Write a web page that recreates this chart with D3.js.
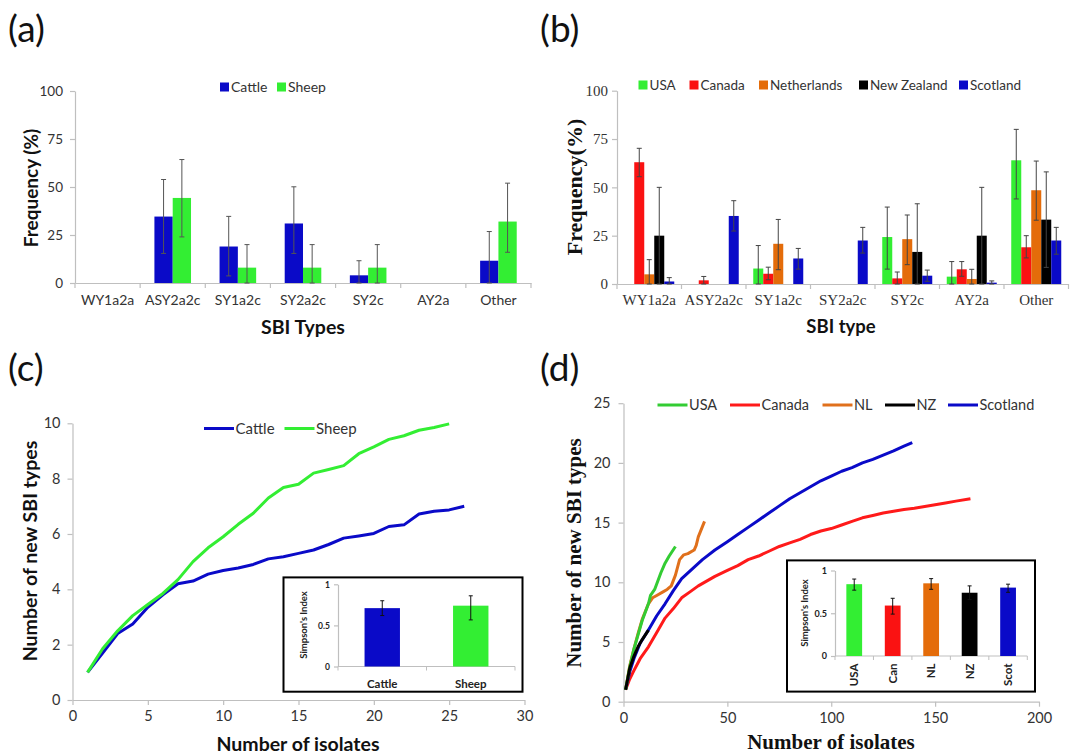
<!DOCTYPE html>
<html><head><meta charset="utf-8">
<script src="https://cdn.jsdelivr.net/npm/d3@7"></script>
<style>body{margin:0;background:#fff}</style>
</head><body>
<svg id="fig" width="1073" height="756"></svg>
<script>
// ---------------- DATA ----------------
// Panel (a): SBI type frequency by host
const sbiTypes = ["WY1a2a","ASY2a2c","SY1a2c","SY2a2c","SY2c","AY2a","Other"];
const hostNames = ["Cattle","Sheep"];
const cattleFreq = [0, 34.6, 19.0, 31.0, 4.0, 0, 11.6];
const cattleLow  = [null, 15.4, 3.7, 15.4, 0, null, 0];
const cattleHigh = [null, 53.9, 34.7, 50.1, 11.6, null, 26.8];
const sheepFreq  = [0, 44.3, 8.0, 8.0, 8.0, 0, 32.0];
const sheepLow   = [null, 24.0, 0, 0, 0, null, 16.0];
const sheepHigh  = [null, 64.3, 20.0, 20.0, 20.0, null, 52.0];
const freqTicks = [0, 25, 50, 75, 100];

// Panel (b): SBI type frequency by country
const countryNames = ["USA","Canada","Netherlands","New Zealand","Scotland"];
const usaFreq = [0, 0, 8.0, 0, 24.3, 3.8, 64.0];
const usaLow  = [null, null, 0, null, 7.7, 0, 44.0];
const usaHigh = [null, null, 19.9, null, 39.8, 11.6, 80.0];
const canFreq = [63.0, 1.9, 5.3, 0, 2.9, 7.6, 19.0];
const canLow  = [55.5, 0, 2.2, null, 0, 4.0, 13.5];
const canHigh = [70.2, 3.9, 8.7, null, 6.2, 11.6, 25.0];
const nlFreq  = [5.0, 0, 20.8, 0, 23.2, 2.6, 48.5];
const nlLow   = [0, null, 7.4, null, 10.0, 0, 33.0];
const nlHigh  = [12.6, null, 33.4, null, 35.7, 7.6, 63.6];
const nzFreq  = [25.0, 0, 0, 0, 16.6, 25.0, 33.3];
const nzLow   = [0, null, null, null, 0, 0, 8.6];
const nzHigh  = [50.0, null, null, null, 41.5, 50.0, 58.0];
const scoFreq = [1.3, 35.2, 13.2, 22.5, 4.3, 0.7, 22.5];
const scoLow  = [0, 27.4, 7.7, 16.0, 1.4, 0, 15.4];
const scoHigh = [3.3, 43.1, 18.4, 29.3, 7.2, 1.6, 29.3];

// Panel (c): accumulation curves by host
const isolatesC = [1,2,3,4,5,6,7,8,9,10,11,12,13,14,15,16,17,18,19,20,21,22,23,24,25,26];
const cattleCurve = [1.0,1.7,2.4,2.75,3.35,3.8,4.2,4.3,4.55,4.68,4.77,4.9,5.1,5.18,5.3,5.42,5.62,5.85,5.93,6.02,6.27,6.33,6.72,6.82,6.87,7.0];
const sheepCurve  = [1.0,1.85,2.5,3.05,3.45,3.85,4.35,5.0,5.5,5.9,6.35,6.75,7.3,7.68,7.8,8.2,8.33,8.47,8.9,9.15,9.42,9.55,9.75,9.85,9.98];
const xTicksC = [0,5,10,15,20,25,30];
const yTicksC = [0,2,4,6,8,10];

// Panel (c) inset: Simpson's index by host
const simpsonHost     = [0.71, 0.74];
const simpsonHostLow  = [0.62, 0.567];
const simpsonHostHigh = [0.80, 0.86];

// Panel (d): accumulation curves by country  [isolates, new SBI types]
const usaCurve = [[1,1],[3,2.9],[5,4.4],[7,5.6],[9,6.8],[12,8.2],[13,8.9],[15,9.4],[18,10.8],[20,11.6],[22,12.2],[25,13.0]];
const canCurve = [[1,1],[3,1.9],[5,2.6],[8,3.6],[12,4.6],[16,5.8],[20,7.0],[24,7.8],[28,8.7],[32,9.2],[36,9.7],[40,10.1],[44,10.5],[50,11.0],[55,11.4],[60,11.9],[65,12.2],[70,12.6],[75,13.0],[80,13.3],[85,13.6],[90,14.0],[95,14.3],[100,14.5],[105,14.8],[110,15.1],[115,15.4],[120,15.6],[125,15.8],[130,15.95],[135,16.1],[140,16.2],[145,16.35],[150,16.5],[155,16.65],[160,16.8],[167,17.0]];
const nlCurve  = [[1,1],[3,3.0],[5,4.4],[7,5.7],[9,6.9],[12,8.2],[14,8.7],[16,8.9],[19,9.2],[21,9.4],[23,9.7],[25,10.6],[27,11.9],[29,12.3],[31,12.4],[34,12.7],[35,13.1],[36,13.8],[39,15.1]];
const nzCurve  = [[1,1],[3,2.8],[5,3.8],[7,4.6],[9,5.2],[12,6.0]];
const scoCurve = [[1,1],[3,2.5],[5,3.6],[8,4.9],[12,6.0],[16,7.2],[20,8.2],[24,9.3],[28,10.3],[33,11.1],[38,11.9],[44,12.7],[50,13.4],[55,14.0],[60,14.6],[65,15.2],[70,15.8],[75,16.4],[80,17.0],[85,17.5],[90,18.0],[95,18.5],[100,18.9],[105,19.3],[110,19.6],[115,20.0],[120,20.3],[125,20.65],[130,21.0],[135,21.4],[139,21.7]];
const legendD = ["USA","Canada","NL","NZ","Scotland"];
const xTicksD = [0,50,100,150,200];
const yTicksD = [0,5,10,15,20,25];

// Panel (d) inset: Simpson's index by country
const simpsonCountryLabels = ["USA","Can","NL","NZ","Scot"];
const simpsonCountry     = [0.84, 0.59, 0.85, 0.74, 0.80];
const simpsonCountryLow  = [0.77, 0.49, 0.78, 0.66, 0.745];
const simpsonCountryHigh = [0.90, 0.675, 0.905, 0.82, 0.84];
const simpsonTicks = [0, 0.5, 1];

// ---------------- STYLE ----------------
const SANS = "Lato, 'Open Sans', sans-serif";
const SERIF = "'Liberation Serif', 'Times New Roman', serif";
const AXIS = "#bfbfbf";
const TXT = "#333";
const BLUE = "#0a0ac8", GREEN = "#33ee33", RED = "#fa1212", ORANGE = "#e46c0a", BLACK = "#000";
const fmt = d3.format("~g");

const svg = d3.select("#fig");
svg.append("rect").attr("width",1073).attr("height",756).attr("fill","#fff");

function letter(t, x, y){
  svg.append("text").attr("x",x).attr("y",y).text(t)
    .attr("font-family",SANS).attr("font-size",37).attr("fill","#111");
}
letter("(a)", 8, 42); letter("(b)", 540, 42);
letter("(c)", 8, 381); letter("(d)", 540, 381);

function styleAxis(g, font, size, color, weight){
  g.select(".domain").attr("stroke",AXIS).attr("stroke-width",1.2);
  g.selectAll(".tick line").attr("stroke",AXIS).attr("stroke-width",1.2);
  g.selectAll("text").attr("font-family",font).attr("font-size",size).attr("fill",color||TXT)
    .attr("font-weight",weight||"normal");
}

function errBars(g, xs, lo, hi, y, cap, color){
  xs.forEach((x,i)=>{
    if (lo[i]==null || hi[i]==null) return;
    g.append("line").attr("x1",x).attr("x2",x).attr("y1",y(lo[i])).attr("y2",y(hi[i])).attr("stroke",color).attr("stroke-width",1);
    [lo[i],hi[i]].forEach(v=>g.append("line").attr("x1",x-cap).attr("x2",x+cap).attr("y1",y(v)).attr("y2",y(v)).attr("stroke",color).attr("stroke-width",1));
  });
}

function barPanel(cfg){
  const x0 = d3.scaleBand().domain(cfg.cats).range(cfg.xr);
  const x1 = d3.scaleBand().domain(cfg.series.map(s=>s.name)).range([0,x0.bandwidth()])
    .paddingInner(0).paddingOuter(cfg.outer);
  const y = d3.scaleLinear().domain([0,100]).range(cfg.yr);
  const ya = svg.append("g").attr("transform",`translate(${cfg.xr[0]},0)`)
    .call(d3.axisLeft(y).tickValues(freqTicks).tickSize(5).tickSizeOuter(0).tickPadding(cfg.yPad));
  styleAxis(ya, cfg.tickFont, cfg.tickSize);
  const xa = svg.append("g").attr("transform",`translate(0,${cfg.yr[0]})`)
    .call(d3.axisBottom(x0).tickSize(0).tickSizeOuter(0).tickPadding(cfg.xPad));
  styleAxis(xa, cfg.tickFont, cfg.xLabSize);
  const bounds = cfg.cats.map(c=>x0(c)).concat([x0.range()[1]]);
  svg.append("g").selectAll("line").data(bounds).join("line")
    .attr("x1",d=>d).attr("x2",d=>d).attr("y1",cfg.yr[0]).attr("y2",cfg.yr[0]+5)
    .attr("stroke",AXIS).attr("stroke-width",1.2);
  cfg.series.forEach(s=>{
    svg.append("g").selectAll("rect").data(cfg.cats.map((c,i)=>({c,v:s.vals[i]}))).join("rect")
      .attr("x",d=>x0(d.c)+x1(s.name)).attr("width",x1.bandwidth())
      .attr("y",d=>y(d.v)).attr("height",d=>y(0)-y(d.v)).attr("fill",s.color);
  });
  const eg = svg.append("g");
  cfg.series.forEach(s=>{
    const xs = cfg.cats.map(c=>x0(c)+x1(s.name)+x1.bandwidth()/2);
    errBars(eg, xs, s.lo, s.hi, y, cfg.cap, cfg.errColor);
  });
  return {x0,y};
}

// ---------- Panel (a) ----------
barPanel({
  cats: sbiTypes, xr:[75,531], yr:[283,91], outer:0.78, yPad:7, xPad:12,
  tickFont:SANS, tickSize:13.5, xLabSize:14, cap:2.5, errColor:"#555",
  series:[
    {name:"Cattle", color:BLUE, vals:cattleFreq, lo:cattleLow, hi:cattleHigh},
    {name:"Sheep", color:GREEN, vals:sheepFreq, lo:sheepLow, hi:sheepHigh}
  ]
});
[["Cattle",BLUE,220],["Sheep",GREEN,277]].forEach(([n,c,x])=>{
  svg.append("rect").attr("x",x).attr("y",82.5).attr("width",9).attr("height",9).attr("fill",c);
  svg.append("text").attr("x",x+11).attr("y",87).attr("dy","0.35em").text(n)
    .attr("font-family",SANS).attr("font-size",14).attr("fill",TXT);
});
svg.append("text").attr("x",303).attr("y",327).attr("text-anchor","middle").attr("dy","0.35em")
  .text("SBI Types").attr("font-family",SANS).attr("font-weight","bold").attr("font-size",19.5).attr("fill","#111");
svg.append("text").attr("transform","translate(31,188) rotate(-90)").attr("text-anchor","middle").attr("dy","0.35em")
  .text("Frequency (%)").attr("font-family",SANS).attr("font-weight","bold").attr("font-size",19).attr("fill","#111");

// ---------- Panel (b) ----------
const countryColors = [GREEN, RED, ORANGE, BLACK, BLUE];
barPanel({
  cats: sbiTypes, xr:[617,1068.5], yr:[284,90.7], outer:0.725, yPad:4, xPad:10,
  tickFont:SERIF, tickSize:15, xLabSize:15, cap:2.5, errColor:"#444",
  series:[
    {name:"USA", color:GREEN, vals:usaFreq, lo:usaLow, hi:usaHigh},
    {name:"Canada", color:RED, vals:canFreq, lo:canLow, hi:canHigh},
    {name:"Netherlands", color:ORANGE, vals:nlFreq, lo:nlLow, hi:nlHigh},
    {name:"New Zealand", color:BLACK, vals:nzFreq, lo:nzLow, hi:nzHigh},
    {name:"Scotland", color:BLUE, vals:scoFreq, lo:scoLow, hi:scoHigh}
  ]
});
const legBx = [638.5, 689.5, 759, 859, 959];
countryNames.forEach((n,i)=>{
  svg.append("rect").attr("x",legBx[i]).attr("y",80.5).attr("width",9).attr("height",9).attr("fill",countryColors[i]);
  svg.append("text").attr("x",legBx[i]+11).attr("y",85).attr("dy","0.35em").text(n)
    .attr("font-family",SANS).attr("font-size",13.5).attr("fill",TXT);
});
svg.append("text").attr("x",841).attr("y",327).attr("text-anchor","middle").attr("dy","0.35em")
  .text("SBI type").attr("font-family",SANS).attr("font-weight","bold").attr("font-size",18.5).attr("fill","#111");
svg.append("text").attr("transform","translate(574,187) rotate(-90)").attr("text-anchor","middle").attr("dy","0.35em")
  .text("Frequency(%)").attr("font-family",SERIF).attr("font-weight","bold").attr("font-size",22).attr("fill","#111");

// ---------- Panel (c) ----------
{
  const x = d3.scaleLinear().domain([0,30]).range([72.5,524.5]);
  const y = d3.scaleLinear().domain([0,10]).range([700,423.3]);
  const xa = svg.append("g").attr("transform","translate(0,700)")
    .call(d3.axisBottom(x).tickValues(xTicksC).tickSize(5).tickSizeOuter(0).tickPadding(6));
  styleAxis(xa, SANS, 14.5);
  const ya = svg.append("g").attr("transform","translate(72.5,0)")
    .call(d3.axisLeft(y).tickValues(yTicksC).tickSize(5).tickSizeOuter(0).tickPadding(7));
  styleAxis(ya, SANS, 14.5);
  const line = d3.line().x(d=>x(d[0])).y(d=>y(d[1]));
  svg.append("path").datum(isolatesC.map((n,i)=>[n,cattleCurve[i]]))
    .attr("d",line).attr("fill","none").attr("stroke",BLUE).attr("stroke-width",3).attr("stroke-linejoin","round");
  svg.append("path").datum(isolatesC.slice(0,sheepCurve.length).map((n,i)=>[n,sheepCurve[i]]))
    .attr("d",line).attr("fill","none").attr("stroke",GREEN).attr("stroke-width",3).attr("stroke-linejoin","round");
  [["Cattle",BLUE,204],["Sheep",GREEN,284.5]].forEach(([n,c,lx])=>{
    svg.append("line").attr("x1",lx).attr("x2",lx+30).attr("y1",428.5).attr("y2",428.5).attr("stroke",c).attr("stroke-width",3);
    svg.append("text").attr("x",lx+31.5).attr("y",428.5).attr("dy","0.35em").text(n)
      .attr("font-family",SANS).attr("font-size",15).attr("fill",TXT);
  });
  svg.append("text").attr("x",298).attr("y",744).attr("text-anchor","middle").attr("dy","0.35em")
    .text("Number of isolates").attr("font-family",SANS).attr("font-weight","bold").attr("font-size",19.5).attr("fill","#111");
  svg.append("text").attr("transform","translate(30,551) rotate(-90)").attr("text-anchor","middle").attr("dy","0.35em")
    .text("Number of new SBI types").attr("font-family",SANS).attr("font-weight","bold").attr("font-size",19.5).attr("fill","#111");

  // inset
  svg.append("rect").attr("x",283.5).attr("y",577.4).attr("width",239).attr("height",114.3)
    .attr("fill","#fff").attr("stroke","#000").attr("stroke-width",2);
  const ix = d3.scaleBand().domain(hostNames).range([338,515]).paddingInner(0.6).paddingOuter(0.3);
  const iy = d3.scaleLinear().domain([0,1]).range([666.5,584.3]);
  const iya = svg.append("g").attr("transform","translate(338,0)")
    .call(d3.axisLeft(iy).tickValues(simpsonTicks).tickFormat(fmt).tickSize(4).tickSizeOuter(0).tickPadding(4));
  styleAxis(iya, SANS, 8.5, "#222", "bold");
  svg.append("line").attr("x1",338).attr("x2",515).attr("y1",666.5).attr("y2",666.5).attr("stroke",AXIS).attr("stroke-width",1.2);
  const step = ix.step();
  [338, 338+step, 515].forEach(b=>svg.append("line").attr("x1",b).attr("x2",b).attr("y1",666.5).attr("y2",670.5).attr("stroke",AXIS));
  svg.append("g").selectAll("rect").data(hostNames).join("rect")
    .attr("x",d=>ix(d)).attr("width",ix.bandwidth()).attr("y",(d,i)=>iy(simpsonHost[i]))
    .attr("height",(d,i)=>iy(0)-iy(simpsonHost[i])).attr("fill",(d,i)=>[BLUE,GREEN][i]);
  errBars(svg.append("g"), hostNames.map(h=>ix(h)+ix.bandwidth()/2), simpsonHostLow, simpsonHostHigh, iy, 2, "#111");
  hostNames.forEach(h=>svg.append("text").attr("x",ix(h)+ix.bandwidth()/2).attr("y",683.5).attr("dy","0.35em")
    .attr("text-anchor","middle").text(h).attr("font-family",SANS).attr("font-weight","bold").attr("font-size",11.5).attr("fill","#222"));
  svg.append("text").attr("transform","translate(303.5,625) rotate(-90)").attr("text-anchor","middle").attr("dy","0.35em")
    .text("Simpson's Index").attr("font-family",SANS).attr("font-weight","bold").attr("font-size",9.5).attr("fill","#222");
}

// ---------- Panel (d) ----------
{
  const x = d3.scaleLinear().domain([0,200]).range([623.5,1039]);
  const y = d3.scaleLinear().domain([0,25]).range([701.7,403.2]);
  const xa = svg.append("g").attr("transform","translate(0,701.7)")
    .call(d3.axisBottom(x).tickValues(xTicksD).tickSize(5).tickSizeOuter(0).tickPadding(6));
  styleAxis(xa, SANS, 14.5);
  const ya = svg.append("g").attr("transform","translate(623.5,0)")
    .call(d3.axisLeft(y).tickValues(yTicksD).tickSize(5).tickSizeOuter(0).tickPadding(8));
  styleAxis(ya, SANS, 14.5);
  const line = d3.line().x(d=>x(d[0])).y(d=>y(d[1]));
  const curves = [canCurve, scoCurve, nlCurve, usaCurve, nzCurve];
  const cols = ["#ff1a1a", "#0a0ac8", "#e0701c", "#33cc33", "#000"];
  curves.forEach((c,i)=>svg.append("path").datum(c).attr("d",line).attr("fill","none")
    .attr("stroke",cols[i]).attr("stroke-width",3).attr("stroke-linejoin","round"));
  const legCols = ["#33cc33","#ff1a1a","#e0701c","#000","#0a0ac8"];
  const legX = [657.5, 730, 822.5, 885, 948];
  legendD.forEach((n,i)=>{
    svg.append("line").attr("x1",legX[i]).attr("x2",legX[i]+30).attr("y1",405).attr("y2",405).attr("stroke",legCols[i]).attr("stroke-width",3);
    svg.append("text").attr("x",legX[i]+31.5).attr("y",405).attr("dy","0.35em").text(n)
      .attr("font-family",SANS).attr("font-size",14.5).attr("fill",TXT);
  });
  svg.append("text").attr("x",831).attr("y",742).attr("text-anchor","middle").attr("dy","0.35em")
    .text("Number of isolates").attr("font-family",SERIF).attr("font-weight","bold").attr("font-size",21).attr("fill","#111");
  svg.append("text").attr("transform","translate(574,553) rotate(-90)").attr("text-anchor","middle").attr("dy","0.35em")
    .text("Number of new SBI types").attr("font-family",SERIF).attr("font-weight","bold").attr("font-size",21).attr("fill","#111");

  // inset
  svg.append("rect").attr("x",787).attr("y",560.4).attr("width",248).attr("height",131.2)
    .attr("fill","#fff").attr("stroke","#000").attr("stroke-width",2);
  const ix = d3.scaleBand().domain(simpsonCountryLabels).range([835,1027.3]).paddingInner(0.59).paddingOuter(0.295);
  const iy = d3.scaleLinear().domain([0,1]).range([656,570.5]);
  const iya = svg.append("g").attr("transform","translate(835,0)")
    .call(d3.axisLeft(iy).tickValues(simpsonTicks).tickFormat(fmt).tickSize(4).tickSizeOuter(0).tickPadding(4));
  styleAxis(iya, SANS, 9, "#222", "bold");
  svg.append("line").attr("x1",835).attr("x2",1027.3).attr("y1",656).attr("y2",656).attr("stroke",AXIS).attr("stroke-width",1.2);
  const step = ix.step();
  d3.range(6).forEach(k=>svg.append("line").attr("x1",835+k*step).attr("x2",835+k*step).attr("y1",656).attr("y2",660).attr("stroke",AXIS));
  const sc = [GREEN, RED, ORANGE, BLACK, BLUE];
  svg.append("g").selectAll("rect").data(simpsonCountryLabels).join("rect")
    .attr("x",d=>ix(d)).attr("width",ix.bandwidth()).attr("y",(d,i)=>iy(simpsonCountry[i]))
    .attr("height",(d,i)=>iy(0)-iy(simpsonCountry[i])).attr("fill",(d,i)=>sc[i]);
  errBars(svg.append("g"), simpsonCountryLabels.map(h=>ix(h)+ix.bandwidth()/2), simpsonCountryLow, simpsonCountryHigh, iy, 2, "#111");
  simpsonCountryLabels.forEach(h=>svg.append("text")
    .attr("transform",`translate(${ix(h)+ix.bandwidth()/2},663.5) rotate(-90)`).attr("dy","0.35em")
    .attr("text-anchor","end").text(h).attr("font-family",SANS).attr("font-weight","bold").attr("font-size",11.5).attr("fill","#222"));
  svg.append("text").attr("transform","translate(805,613) rotate(-90)").attr("text-anchor","middle").attr("dy","0.35em")
    .text("Simpson's Index").attr("font-family",SANS).attr("font-weight","bold").attr("font-size",9.5).attr("fill","#222");
}
</script>
</body></html>
